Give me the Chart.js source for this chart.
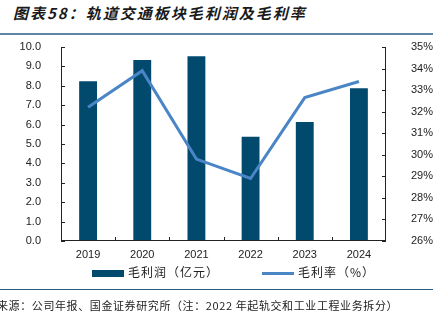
<!DOCTYPE html>
<html>
<head>
<meta charset="utf-8">
<script src="https://cdn.jsdelivr.net/npm/chart.js@4.4.1/dist/chart.umd.min.js"></script>
<style>
  html, body { margin: 0; padding: 0; background: #fff; }
  #wrap { position: relative; width: 445px; height: 324px; overflow: hidden; font-family: "Noto Sans CJK SC", sans-serif; }
  #title { position: absolute; left: 13px; top: 2px; font-size: 15px; font-weight: bold; font-style: italic; color: #1a1a1a; letter-spacing: 2px; }
  #topline { position: absolute; left: 0; top: 33px; width: 433px; height: 2px; background: #5f86a4; }
  #botline { position: absolute; left: 0; top: 289px; width: 433px; height: 1px; background: #2b5c80; }
  #source { position: absolute; left: -3px; top: 297px; font-size: 11px; color: #222; white-space: nowrap; letter-spacing: 0.6px; }
  #legend { position: absolute; top: 263px; left: 0; width: 445px; height: 18px; font-size: 12px; color: #222; letter-spacing: 1px; }
  .lg { position: absolute; top: 0; white-space: nowrap; line-height: 18px; }
  .sw { display: inline-block; vertical-align: middle; margin-right: 4px; }
  canvas { position: absolute; left: 0; top: 0; }
</style>
</head>
<body>
<div id="wrap">
  <div id="title">图表58：轨道交通板块毛利润及毛利率</div>
  <div id="topline"></div>
  <canvas id="c" width="445" height="324"></canvas>
  <div id="legend"></div>
  <div id="botline"></div>
  <div id="source">来源：公司年报、国金证券研究所（注：2022 年起轨交和工业工程业务拆分）</div>
</div>
<script>
// 数据
const years = ['2019', '2020', '2021', '2022', '2023', '2024'];
const grossProfit = [8.24, 9.33, 9.52, 5.38, 6.14, 7.88];   // 亿元
const grossMargin = [32.2, 33.9, 29.8, 28.9, 32.65, 33.4];   // %
const leftTicks = [0, 1, 2, 3, 4, 5, 6, 7, 8, 9, 10];
const rightTicks = [26, 27, 28, 29, 30, 31, 32, 33, 34, 35];

const BAR_COLOR = '#014a6e';
const LINE_COLOR = '#4a86c6';

// 坐标轴线和朝内的刻度
const axisLines = {
  id: 'axisLines',
  afterDatasetsDraw(chart) {
    const ctx = chart.ctx;
    const a = chart.chartArea;
    const yL = chart.scales.y;
    const yR = chart.scales.y1;
    const x = chart.scales.x;
    ctx.save();
    ctx.strokeStyle = '#222';
    ctx.lineWidth = 1;
    ctx.beginPath();
    ctx.moveTo(a.left + 0.5, a.top); ctx.lineTo(a.left + 0.5, a.bottom);
    ctx.moveTo(a.right - 0.5, a.top); ctx.lineTo(a.right - 0.5, a.bottom);
    ctx.moveTo(a.left, a.bottom - 0.5); ctx.lineTo(a.right, a.bottom - 0.5);
    leftTicks.forEach(v => {
      const py = Math.round(yL.getPixelForValue(v)) + 0.5;
      ctx.moveTo(a.left, py); ctx.lineTo(a.left + 4, py);
    });
    rightTicks.forEach(v => {
      const py = Math.round(yR.getPixelForValue(v)) + 0.5;
      ctx.moveTo(a.right, py); ctx.lineTo(a.right - 4, py);
    });
    for (let i = 0; i < years.length - 1; i++) {
      const px = Math.round((x.getPixelForValue(i) + x.getPixelForValue(i + 1)) / 2) + 0.5;
      ctx.moveTo(px, a.bottom); ctx.lineTo(px, a.bottom - 4);
    }
    ctx.stroke();
    ctx.restore();
  }
};

const chart = new Chart(document.getElementById('c'), {
  data: {
    labels: years,
    datasets: [
      {
        type: 'line',
        label: '毛利率（%）',
        data: grossMargin,
        yAxisID: 'y1',
        borderColor: LINE_COLOR,
        backgroundColor: LINE_COLOR,
        borderWidth: 3,
        pointRadius: 0,
        tension: 0,
        order: 1,
      },
      {
        type: 'bar',
        label: '毛利润（亿元）',
        data: grossProfit,
        yAxisID: 'y',
        backgroundColor: BAR_COLOR,
        borderWidth: 0,
        barPercentage: 0.33,
        categoryPercentage: 1,
        order: 2,
      },
    ],
  },
  options: {
    responsive: false,
    animation: false,
    layout: { padding: { left: 0, right: 0, top: 47, bottom: 57 } },
    plugins: {
      legend: { display: false },
      tooltip: { enabled: false },
    },
    scales: {
      x: {
        afterFit(s) { s.height = 26; },
        grid: { display: false, drawTicks: false },
        border: { display: false },
        ticks: { color: '#222', font: { size: 11, family: 'Arial, "Liberation Sans"' }, padding: 7 },
      },
      y: {
        position: 'left',
        min: 0, max: 10,
        afterFit(s) { s.width = 61; },
        afterBuildTicks(s) { s.ticks = leftTicks.map(v => ({ value: v })); },
        grid: { display: false },
        border: { display: false },
        ticks: {
          color: '#222', padding: 12,
          font: { size: 11, family: 'Arial, "Liberation Sans"' },
          callback: v => v.toFixed(1),
        },
      },
      y1: {
        position: 'right',
        min: 26, max: 35,
        afterFit(s) { s.width = 59; },
        afterBuildTicks(s) { s.ticks = rightTicks.map(v => ({ value: v })); },
        grid: { display: false },
        border: { display: false },
        ticks: {
          color: '#222', padding: 17,
          font: { size: 11, family: 'Arial, "Liberation Sans"' },
          callback: v => v + '%',
        },
      },
    },
  },
  plugins: [axisLines],
});

// 图例（按数据集名称生成）
const legendEl = document.getElementById('legend');
const legendPos = [{ idx: 1, left: 92, h: 7 }, { idx: 0, left: 262, h: 3 }];
legendPos.forEach(p => {
  const ds = chart.data.datasets[p.idx];
  const item = document.createElement('div');
  item.className = 'lg';
  item.style.left = p.left + 'px';
  item.innerHTML = '<span class="sw" style="width:32px;height:' + p.h + 'px;background:' +
    (ds.type === 'bar' ? ds.backgroundColor : ds.borderColor) + '"></span>' + ds.label;
  legendEl.appendChild(item);
});
</script>
</body>
</html>
